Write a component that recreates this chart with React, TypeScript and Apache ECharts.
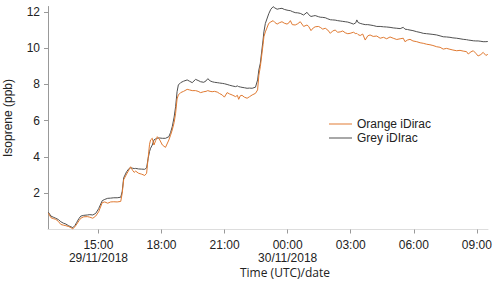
import React, { useEffect, useRef } from "react";
import * as echarts from "echarts";

// Hours since 29/11/2018 00:00 UTC
const times = [
  12.62, 12.74, 12.85, 12.97, 13.09, 13.21, 13.33, 13.45, 13.59, 13.69, 13.78, 13.88, 13.97, 14.07, 14.16, 14.30, 14.47, 14.59, 14.73, 14.87,
  15.01, 15.18, 15.30, 15.44, 15.58, 15.73, 15.89, 16.06, 16.13, 16.20, 16.34, 16.46, 16.53, 16.63, 16.70, 16.77, 16.91, 17.06, 17.20, 17.29,
  17.36, 17.43, 17.48, 17.56, 17.64, 17.72, 17.80, 17.89, 18.04, 18.19, 18.35, 18.43, 18.51, 18.60, 18.67, 18.74, 18.80, 18.91, 19.05, 19.22,
  19.33, 19.46, 19.62, 19.74, 19.86, 20.01, 20.12, 20.20, 20.31, 20.41, 20.52, 20.65, 20.76, 20.89, 20.99, 21.12, 21.23, 21.36, 21.52, 21.61,
  21.67, 21.75, 21.83, 21.94, 22.07, 22.18, 22.31, 22.47, 22.57, 22.63, 22.70, 22.83, 22.87, 22.94, 23.10, 23.20, 23.31, 23.39, 23.50, 23.60,
  23.73, 23.84, 23.97, 24.06, 24.13, 24.22, 24.36, 24.48, 24.60, 24.76, 24.92, 25.00, 25.11, 25.22, 25.31, 25.46, 25.55, 25.67, 25.79, 25.91,
  26.03, 26.14, 26.26, 26.38, 26.50, 26.62, 26.74, 26.86, 26.97, 27.13, 27.24, 27.29, 27.35, 27.45, 27.57, 27.69, 27.81, 27.92, 28.07, 28.24,
  28.40, 28.56, 28.71, 28.87, 29.02, 29.19, 29.35, 29.50, 29.58, 29.70, 29.82, 29.96, 30.14, 30.30, 30.45, 30.61, 30.77, 30.91, 31.09, 31.25,
  31.40, 31.56, 31.72, 31.86, 32.04, 32.20, 32.35, 32.51, 32.59, 32.72, 32.83, 32.95, 33.06, 33.19, 33.30, 33.43, 33.52,
];

const orangeValues = [
  0.90, 0.65, 0.60, 0.56, 0.45, 0.28, 0.24, 0.21, 0.16, 0.10, 0.04, 0.15, 0.30, 0.48, 0.62, 0.70, 0.71, 0.68, 0.62, 0.74,
  0.98, 1.48, 1.52, 1.45, 1.52, 1.53, 1.52, 1.55, 2.00, 2.75, 3.06, 3.30, 3.46, 3.25, 3.15, 3.22, 3.10, 3.05, 2.98, 3.10,
  3.90, 4.70, 4.94, 5.03, 4.66, 4.90, 5.12, 5.00, 4.66, 4.53, 4.94, 5.20, 5.49, 5.90, 6.41, 7.20, 7.42, 7.55, 7.62, 7.73,
  7.70, 7.66, 7.66, 7.62, 7.55, 7.60, 7.62, 7.66, 7.62, 7.60, 7.62, 7.58, 7.50, 7.42, 7.30, 7.55, 7.48, 7.42, 7.33, 7.40,
  7.18, 7.38, 7.40, 7.30, 7.24, 7.32, 7.42, 7.51, 7.70, 8.50, 8.98, 10.20, 10.63, 10.90, 11.37, 11.45, 11.52, 11.42, 11.33, 11.40,
  11.46, 11.38, 11.33, 11.40, 11.52, 11.30, 11.28, 11.35, 11.46, 11.20, 11.28, 11.20, 10.97, 11.12, 11.18, 11.20, 11.15, 11.05, 11.10, 11.00,
  10.82, 10.95, 11.00, 10.88, 10.90, 10.95, 10.85, 10.80, 10.82, 10.88, 10.80, 10.82, 10.75, 10.70, 10.78, 10.45, 10.68, 10.73, 10.65, 10.67,
  10.55, 10.60, 10.52, 10.62, 10.55, 10.48, 10.52, 10.55, 10.36, 10.45, 10.49, 10.40, 10.36, 10.30, 10.27, 10.22, 10.19, 10.15, 10.08, 10.05,
  9.95, 9.99, 9.94, 9.90, 9.86, 9.88, 9.84, 9.81, 9.68, 9.80, 9.86, 9.72, 9.57, 9.65, 9.77, 9.60, 9.66,
];

const greyValues = [
  0.95, 0.74, 0.68, 0.62, 0.55, 0.43, 0.35, 0.30, 0.20, 0.15, 0.10, 0.22, 0.40, 0.60, 0.74, 0.78, 0.80, 0.82, 0.80, 0.89,
  1.15, 1.59, 1.66, 1.72, 1.73, 1.75, 1.75, 1.78, 2.10, 2.85, 3.19, 3.37, 3.40, 3.38, 3.36, 3.37, 3.34, 3.33, 3.32, 3.40,
  3.90, 4.30, 4.48, 4.66, 4.94, 5.00, 5.03, 5.05, 5.03, 5.03, 5.12, 5.35, 5.67, 6.20, 6.77, 7.60, 7.97, 8.10, 8.18, 8.25,
  8.18, 8.10, 8.28, 8.22, 8.15, 8.12, 8.20, 8.32, 8.20, 8.15, 8.12, 8.10, 8.08, 8.06, 8.04, 8.00, 7.96, 7.92, 7.88, 7.92,
  7.88, 7.86, 7.84, 7.82, 7.79, 7.80, 7.79, 7.85, 8.25, 8.80, 9.17, 10.45, 10.90, 11.37, 11.90, 12.15, 12.29, 12.22, 12.15, 12.18,
  12.20, 12.14, 12.10, 12.08, 12.07, 12.02, 11.96, 11.95, 11.92, 11.83, 11.98, 11.85, 11.75, 11.78, 11.80, 11.74, 11.71, 11.70, 11.68, 11.62,
  11.57, 11.56, 11.55, 11.52, 11.50, 11.48, 11.46, 11.44, 11.40, 11.33, 11.40, 11.56, 11.42, 11.37, 11.33, 11.30, 11.30, 11.28, 11.25, 11.20,
  11.20, 11.18, 11.17, 11.15, 11.12, 11.10, 11.08, 11.15, 11.05, 11.03, 11.00, 10.97, 10.91, 10.87, 10.82, 10.80, 10.78, 10.76, 10.73, 10.68,
  10.63, 10.62, 10.60, 10.57, 10.55, 10.52, 10.49, 10.47, 10.45, 10.43, 10.41, 10.40, 10.40, 10.38, 10.36, 10.36, 10.37,
];

const xTickHours = [15, 18, 21, 24, 27, 30, 33];
const xTickLabels = ["15:00\n29/11/2018", "18:00", "21:00", "00:00\n30/11/2018", "03:00", "06:00", "09:00"];

const seriesNames = ["Orange iDirac", "Grey iDIrac"];

export default function App() {
  const ref = useRef<HTMLDivElement>(null);
  useEffect(() => {
    if (!ref.current) return;
    const chart = echarts.init(ref.current, null, { renderer: "svg" });
    const orange = times.map((t, i) => [t, orangeValues[i]]);
    const grey = times.map((t, i) => [t, greyValues[i]]);
    chart.setOption({
      animation: false,
      backgroundColor: "#ffffff",
      grid: { left: 48, right: 12, top: 6.5, bottom: 53.5, outerBoundsMode: "none", containLabel: false },
      legend: {
        orient: "vertical",
        left: 324,
        top: 113,
        icon: "rect",
        itemWidth: 23,
        itemHeight: 1,
        itemGap: 2,
        textStyle: { fontFamily: "Liberation Sans", fontSize: 12, color: "#222", lineHeight: 12 },
        data: seriesNames,
      },
      xAxis: {
        type: "value",
        min: 12.6,
        max: 33.53,
        axisLine: { show: true, lineStyle: { color: "#dddddd", width: 1 } },
        axisTick: {
          show: true,
          length: 4,
          customValues: xTickHours,
          lineStyle: { color: "#999999" },
        },
        axisLabel: {
          customValues: xTickHours,
          fontFamily: "Liberation Sans",
          fontSize: 12,
          color: "#222",
          lineHeight: 13,
          margin: 9,
          formatter: (v: number) => {
            const idx = xTickHours.findIndex((h) => Math.abs(h - v) < 1e-6);
            return idx >= 0 ? xTickLabels[idx] : "";
          },
        },
        splitLine: { show: false },
      },
      yAxis: {
        type: "value",
        min: 0,
        max: 12.3,
        interval: 2,
        name: "Isoprene (ppb)",
        nameLocation: "middle",
        nameGap: 34,
        nameTextStyle: { fontFamily: "Liberation Sans", fontSize: 12, color: "#222" },
        axisLine: { show: true, lineStyle: { color: "#999999", width: 1 } },
        axisTick: { show: true, length: 4, lineStyle: { color: "#999999" } },
        axisLabel: {
          fontFamily: "Liberation Sans",
          fontSize: 12,
          color: "#222",
          margin: 8,
          showMinLabel: false,
          formatter: (v: number) => (v === 0 ? "" : String(v)),
        },
        splitLine: { show: false },
      },
      graphic: [
        {
          type: "text",
          x: 285,
          y: 272,
          style: {
            text: "Time (UTC)/date",
            fontFamily: "Open Sans",
            fontSize: 12,
            fill: "#222",
            align: "center",
            verticalAlign: "middle",
          },
        },
      ],
      series: [
        {
          name: seriesNames[0],
          type: "line",
          data: orange,
          showSymbol: false,
          symbol: "none",
          lineStyle: { color: "#e07a32", width: 1 },
          itemStyle: { color: "#e07a32" },
          z: 3,
        },
        {
          name: seriesNames[1],
          type: "line",
          data: grey,
          showSymbol: false,
          symbol: "none",
          lineStyle: { color: "#505050", width: 1 },
          itemStyle: { color: "#505050" },
          z: 2,
        },
      ],
    });
    return () => chart.dispose();
  }, []);
  return (
    <div
      ref={ref}
      style={{ position: "absolute", left: 0, top: 0, width: 500, height: 283 }}
    />
  );
}
